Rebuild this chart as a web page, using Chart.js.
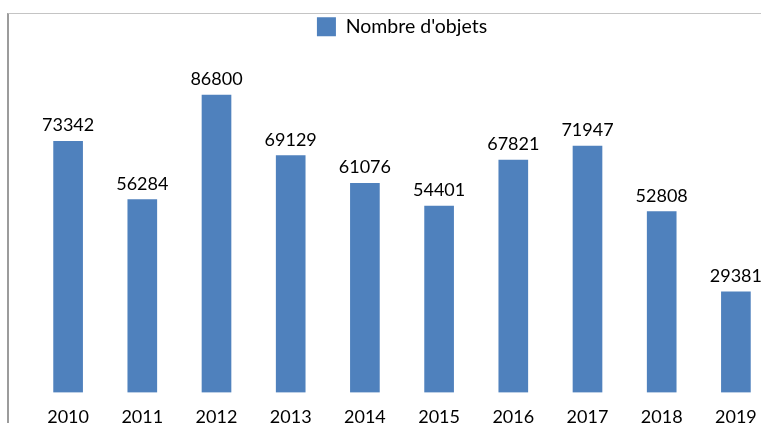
<!DOCTYPE html>
<html>
<head>
<meta charset="utf-8">
<script src="https://cdn.jsdelivr.net/npm/chart.js@4/dist/chart.umd.min.js"></script>
<style>
  html, body { margin: 0; padding: 0; background: #fff; overflow: hidden; width: 761px; height: 423px; }
  #frame { position: absolute; left: 7px; top: 13px; width: 1000px; height: 1000px;
           border-top: 1px solid #c4c4c4; border-left: 2px solid #9c9c9c; }
  #wrap { position: absolute; left: 0; top: 0; width: 800px; height: 442px; }
</style>
</head>
<body>
<div id="frame"></div>
<div id="wrap"><canvas id="myChart"></canvas></div>
<script>
const years = ["2010", "2011", "2012", "2013", "2014", "2015", "2016", "2017", "2018", "2019"];
const objets = [73342, 56284, 86800, 69129, 61076, 54401, 67821, 71947, 52808, 29381];

const FONT = "Lato, 'Open Sans', sans-serif";

// valeurs au-dessus des barres
const valueLabels = {
  id: "valueLabels",
  afterDatasetsDraw(chart) {
    const c = chart.ctx;
    c.save();
    c.font = "18px " + FONT;
    c.fillStyle = "#000";
    c.textAlign = "center";
    c.textBaseline = "alphabetic";
    chart.getDatasetMeta(0).data.forEach((bar, i) => {
      c.fillText(String(chart.data.datasets[0].data[i]), bar.x, bar.y - 10);
    });
    c.restore();
  },
};

const ctx = document.getElementById("myChart");

new Chart(ctx, {
  type: "bar",
  data: {
    labels: years,
    datasets: [
      {
        label: "Nombre d'objets",
        data: objets,
        backgroundColor: "#4F81BD",
        barThickness: 29,
      },
    ],
  },
  options: {
    responsive: true,
    maintainAspectRatio: false,
    animation: false,
    layout: { padding: { left: 31, right: 27, top: 7, bottom: 0 } },
    plugins: {
      tooltip: { enabled: false },
      legend: {
        position: "top",
        labels: {
          boxWidth: 19,
          boxHeight: 19,
          color: "#000",
          font: { family: FONT, size: 19.5 },
        },
      },
    },
    scales: {
      x: {
        grid: { display: false, drawTicks: false },
        border: { display: false },
        ticks: { color: "#000", padding: 14, font: { family: FONT, size: 18 } },
      },
      y: {
        display: false,
        beginAtZero: true,
        min: 0,
        max: 101000,
      },
    },
  },
  plugins: [valueLabels],
});
</script>
</body>
</html>
